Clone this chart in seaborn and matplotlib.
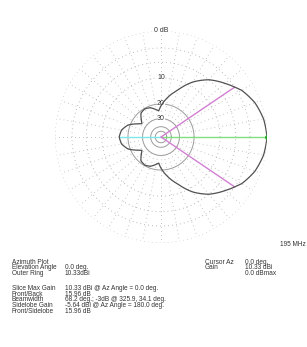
import numpy as np
import pandas as pd
import seaborn as sns
import matplotlib.pyplot as plt

# azimuth pattern (relative dB), symmetric about 0 deg
az_half = [0, 10, 20, 30, 34.1, 40, 50, 60, 70, 80, 90, 95, 100, 110, 120, 130, 140, 145, 150, 160, 170, 180]
gain_half = [0, -0.3, -1.0, -2.2, -3.0, -4.1, -6.0, -8.8, -12.8, -16.5, -21.0, -24.0, -23.0, -21.0, -20.3,
             -21.0, -24.5, -26.0, -24.0, -19.0, -16.7, -15.96]

ring_db = [0, -3, -6, -10, -20, -30, -40, -50]
ring_labels = {0: '0 dB', -10: '10', -20: '20', -30: '30'}

beam_edges = [34.1, -34.1]
back_gain = -15.96

top_labels = ['Azimuth Plot', 'Elevation Angle', 'Outer Ring']
top_values = ['', '0.0 deg.', '10.33dBi']
bottom_labels = ['Slice Max Gain', 'Front/Back', 'Beamwidth', 'Sidelobe Gain', 'Front/Sidelobe']
bottom_values = ['10.33 dBi @ Az Angle = 0.0 deg.', '15.96 dB', '68.2 deg.; -3dB @ 325.9, 34.1 deg.',
                 '-5.64 dBi @ Az Angle = 180.0 deg.', '15.96 dB']
right_labels = ['Cursor Az', 'Gain', '']
right_values = ['0.0 deg.', '10.33 dBi', '0.0 dBmax']


def arrl(db):
    # ARRL log scale: 0.89 per 2 dB
    return 0.89 ** (-np.asarray(db, dtype=float) / 2)


az = az_half + [360 - a for a in reversed(az_half[:-1])]
gain = gain_half + list(reversed(gain_half[:-1]))
df = pd.DataFrame({'theta': np.radians(az), 'r': arrl(gain)})

sns.set_theme(style='white')
plt.rcParams['font.family'] = ['Liberation Sans', 'DejaVu Sans']

fig = plt.figure(figsize=(3.07, 3.47), dpi=100)
ax = fig.add_axes([55 / 307, 1 - 243 / 347, 212 / 307, 212 / 347], projection='polar')
ax.set_ylim(0, 1)
ax.grid(False)
ax.set_xticks([])
ax.set_yticks([])
ax.spines['polar'].set_visible(False)

th = np.linspace(0, 2 * np.pi, 400)
dot = (0, (0.7, 3.4))
for db in ring_db:
    r = float(arrl(db))
    if db <= -20:
        ax.plot(th, np.full_like(th, r), color='#9c9c9c', lw=0.7, zorder=1)
    else:
        ax.plot(th, np.full_like(th, r), color='#a0a0a0', lw=0.7, ls=dot, zorder=1)
r_in = float(arrl(-30))
for a in range(0, 360, 10):
    t = np.radians(a)
    ax.plot([t, t], [r_in, 1], color='#b0b0b0', lw=0.7, ls=dot, zorder=1)

for db, lab in ring_labels.items():
    ax.text(np.pi / 2, float(arrl(db)), lab, ha='center', va='center', fontsize=5.0, color='#333333',
            bbox=dict(facecolor='white', edgecolor='none', pad=0.4), zorder=3)

# indicator lines
sns.lineplot(x=[0, 0], y=[0, 1], color='#7fe07f', lw=1.0, sort=False, estimator=None, ax=ax, zorder=2)
sns.lineplot(x=[np.pi, np.pi], y=[0, float(arrl(back_gain))], color='#7fe6e6', lw=1.0,
             sort=False, estimator=None, ax=ax, zorder=2)
for b in beam_edges:
    t = np.radians(b)
    sns.lineplot(x=[t, t], y=[0, float(arrl(-3))], color='#d27fd2', lw=1.0,
                 sort=False, estimator=None, ax=ax, zorder=2)

sns.lineplot(data=df, x='theta', y='r', color='#505050', lw=0.9, sort=False, estimator=None, ax=ax, zorder=4)
# draw pattern segments along arcs like the polar plot does
ax.lines[-1].get_path()._interpolation_steps = 30
ax.plot([0], [1], marker='o', ms=2.5, color='#22aa22', zorder=5)
ax.set_xlabel('')
ax.set_ylabel('')

fs = 4.7
tc = '#333333'


def row(x, y_px, s):
    fig.text(x / 307, 1 - y_px / 347, s, ha='left', va='center', fontsize=fs, color=tc)


fig.text(306 / 307, 1 - 245 / 347, '195 MHz', ha='right', va='center', fontsize=fs, color=tc)
for i, (lab, val) in enumerate(zip(top_labels, top_values)):
    row(12, 262 + i * 5.6, lab)
    row(65, 262 + i * 5.6, val)
for i, (lab, val) in enumerate(zip(bottom_labels, bottom_values)):
    row(12, 288.3 + i * 5.75, lab)
    row(65, 288.3 + i * 5.75, val)
for i, (lab, val) in enumerate(zip(right_labels, right_values)):
    row(205, 262 + i * 5.6, lab)
    row(245, 262 + i * 5.6, val)

fig.savefig('out.png', dpi=100)
